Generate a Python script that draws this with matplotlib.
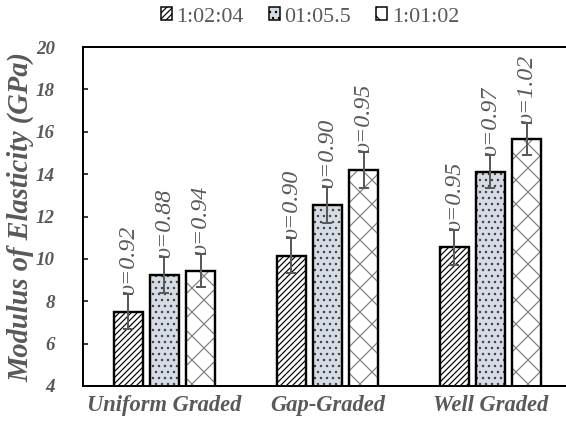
import numpy as np
import matplotlib.pyplot as plt
from matplotlib.patches import Patch

plt.rcParams['font.family'] = ['Liberation Serif', 'DejaVu Serif']
plt.rcParams['hatch.linewidth'] = 1.2

groups = ['Uniform Graded', 'Gap-Graded', 'Well Graded']
series = ['1:02:04', '01:05.5', '1:01:02']

# modulus of elasticity (GPa) per mix, one list per series
mod_a = [7.5, 10.15, 10.55]
mod_b = [9.25, 12.55, 14.12]
mod_c = [9.45, 14.2, 15.65]
err_a = [0.83, 0.82, 0.83]
err_b = [0.86, 0.84, 0.78]
err_c = [0.77, 0.85, 0.75]
nu_a = ['0.92', '0.90', '0.95']
nu_b = ['0.88', '0.90', '0.97']
nu_c = ['0.94', '0.95', '1.02']

grey = '#595959'
styles = [
    dict(face='white', hatch='////', hcol='black'),
    dict(face='#d6dce5', hatch='..', hcol='#404040'),
    dict(face='white', hatch='x', hcol='#7f7f7f'),
]

fig = plt.figure(figsize=(566 / 72, 430 / 72), dpi=72)
ax = fig.add_axes([83 / 566, 44 / 430, 483 / 566, 339 / 430])

x = np.arange(len(groups))
step = 0.222
width = 0.178

for k, (vals, errs, nus, st) in enumerate(zip([mod_a, mod_b, mod_c],
                                              [err_a, err_b, err_c],
                                              [nu_a, nu_b, nu_c], styles)):
    pos = x + (k - 1) * step
    # fill + hatch first, then a black outline on top
    ax.bar(pos, vals, width, color=st['face'], edgecolor=st['hcol'],
           hatch=st['hatch'], linewidth=0, zorder=2)
    ax.bar(pos, vals, width, fill=False, edgecolor='black', linewidth=2.4, zorder=3)
    ax.errorbar(pos, vals, yerr=errs, fmt='none', ecolor=grey, elinewidth=2,
                capsize=5, capthick=2, zorder=4)
    for p, v, e, n in zip(pos, vals, errs, nus):
        ax.text(p, v + e, 'υ=' + n, rotation=90, ha='center', va='bottom',
                fontsize=24, style='italic', color=grey, zorder=5)

ax.set_ylim(4, 20)
ax.set_yticks(np.arange(4, 21, 2))
ax.set_xlim(-0.5, -0.5 + 483 / 163)
ax.set_xticks(x)
ax.set_xticklabels(groups)

for t in ax.get_yticklabels() + ax.get_xticklabels():
    t.set_fontweight('bold')
    t.set_fontstyle('italic')
    t.set_color(grey)
for t in ax.get_yticklabels():
    t.set_fontsize(19)
for t in ax.get_xticklabels():
    t.set_fontsize(22.5)

ax.tick_params(axis='y', direction='in', length=5, width=1.5, pad=28)
ax.tick_params(axis='x', length=0, pad=9)
ax.spines['right'].set_visible(False)
for s in ['left', 'top', 'bottom']:
    ax.spines[s].set_linewidth(2)

ax.set_ylabel('Modulus of Elasticity (GPa)', fontsize=28.5, fontweight='bold',
              style='italic', color=grey, labelpad=2)

handles = [Patch(facecolor=st['face'], edgecolor='black', hatch=st['hatch'],
                 linewidth=1.5) for st in styles]
fig.legend(handles, series, loc='center', bbox_to_anchor=(310 / 566, 1 - 17 / 430),
           ncol=3, frameon=False, fontsize=22, handlelength=0.5, handleheight=0.5,
           handletextpad=0.2, columnspacing=1.15, labelcolor=grey)

fig.savefig('out.png', dpi=72)
